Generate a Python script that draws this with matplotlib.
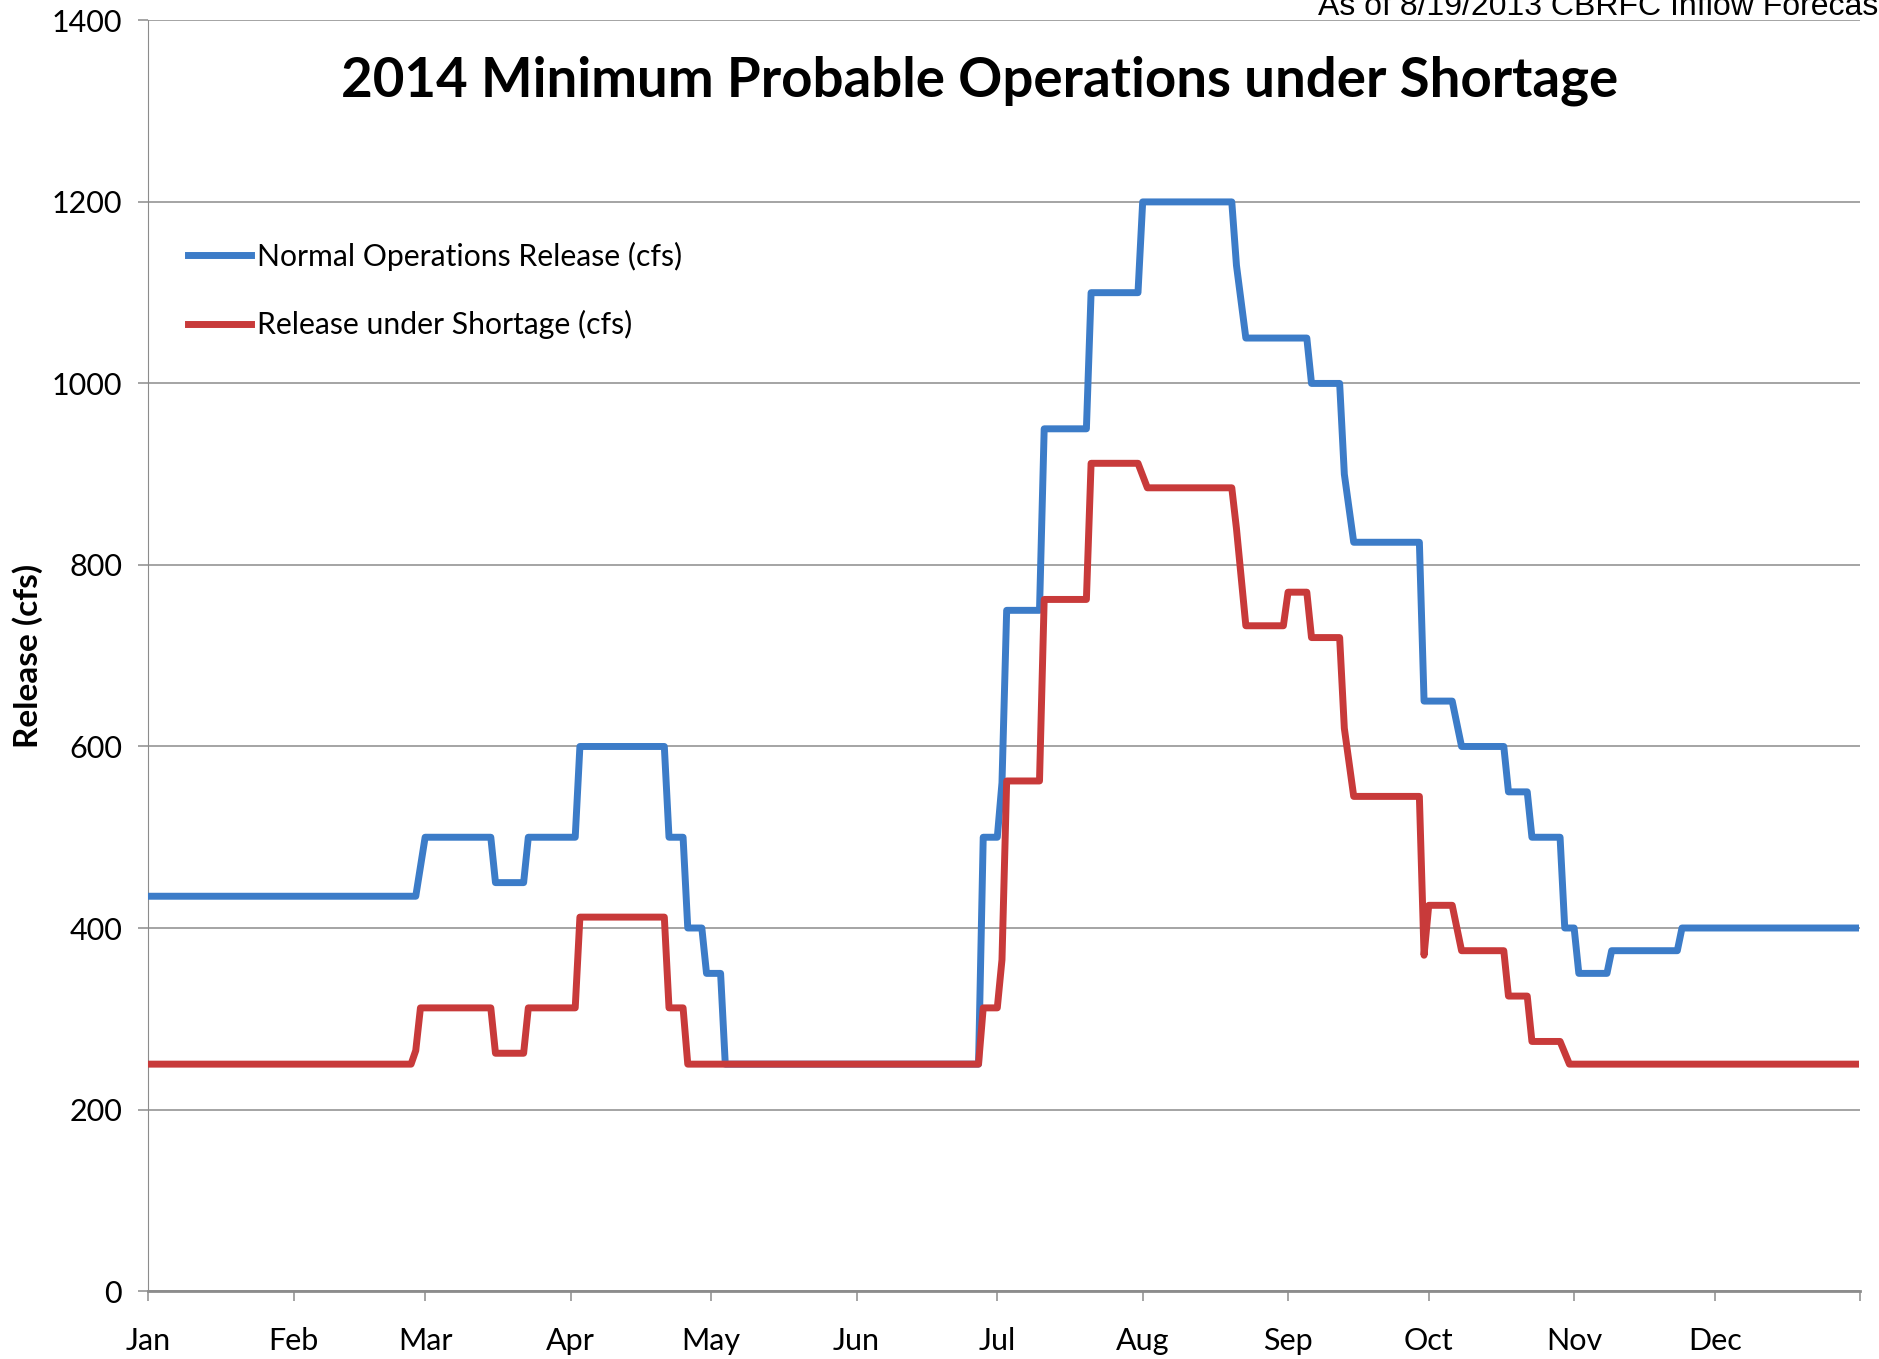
import pandas as pd
import matplotlib
matplotlib.use('Agg')
import matplotlib.pyplot as plt

# breakpoints of the two release schedules (date, cfs)
normal_dates = ['2014-01-01', '2014-02-27', '2014-03-01', '2014-03-15', '2014-03-16', '2014-03-22',
                '2014-03-23', '2014-04-02', '2014-04-03', '2014-04-21', '2014-04-22', '2014-04-25',
                '2014-04-26', '2014-04-29', '2014-04-30', '2014-05-03', '2014-05-04', '2014-06-27',
                '2014-06-28', '2014-07-01', '2014-07-02', '2014-07-03', '2014-07-10', '2014-07-11',
                '2014-07-20', '2014-07-21', '2014-07-31', '2014-08-01', '2014-08-20', '2014-08-21',
                '2014-08-23', '2014-09-05', '2014-09-06', '2014-09-12', '2014-09-13', '2014-09-15',
                '2014-09-29', '2014-09-30', '2014-10-06', '2014-10-07', '2014-10-08', '2014-10-17',
                '2014-10-18', '2014-10-22', '2014-10-23', '2014-10-29', '2014-10-30', '2014-11-01',
                '2014-11-02', '2014-11-08', '2014-11-09', '2014-11-23', '2014-11-24', '2014-12-31']
normal_cfs = [435, 435, 500, 500, 450, 450,
              500, 500, 600, 600, 500, 500,
              400, 400, 350, 350, 250, 250,
              500, 500, 560, 750, 750, 950,
              950, 1100, 1100, 1200, 1200, 1130,
              1050, 1050, 1000, 1000, 900, 825,
              825, 650, 650, 625, 600, 600,
              550, 550, 500, 500, 400, 400,
              350, 350, 375, 375, 400, 400]

shortage_dates = ['2014-01-01', '2014-02-26', '2014-02-27', '2014-02-28', '2014-03-15', '2014-03-16',
                  '2014-03-22', '2014-03-23', '2014-04-02', '2014-04-03', '2014-04-21', '2014-04-22',
                  '2014-04-25', '2014-04-26', '2014-06-27', '2014-06-28', '2014-07-01', '2014-07-02',
                  '2014-07-03', '2014-07-10', '2014-07-11', '2014-07-20', '2014-07-21', '2014-07-31',
                  '2014-08-02', '2014-08-20', '2014-08-21', '2014-08-23', '2014-08-31', '2014-09-01',
                  '2014-09-05', '2014-09-06', '2014-09-12', '2014-09-13', '2014-09-15', '2014-09-29',
                  '2014-09-30', '2014-10-01', '2014-10-06', '2014-10-07', '2014-10-08', '2014-10-17',
                  '2014-10-18', '2014-10-22', '2014-10-23', '2014-10-29', '2014-10-31', '2014-12-31']
shortage_cfs = [250, 250, 265, 312, 312, 262,
                262, 312, 312, 412, 412, 312,
                312, 250, 250, 312, 312, 365,
                562, 562, 762, 762, 912, 912,
                885, 885, 840, 733, 733, 770,
                770, 720, 720, 620, 545, 545,
                370, 425, 425, 400, 375, 375,
                325, 325, 275, 275, 250, 250]

months = ['Jan', 'Feb', 'Mar', 'Apr', 'May', 'Jun', 'Jul', 'Aug', 'Sep', 'Oct', 'Nov', 'Dec']

plt.rcParams['font.family'] = ['Lato', 'DejaVu Sans']

fig = plt.figure(figsize=(18.79, 13.59), dpi=100)
ax = fig.add_axes([0.079, 0.050, 0.911, 0.935])

ax.plot(pd.to_datetime(normal_dates), normal_cfs, color='#3C7CC8', lw=5,
        label='Normal Operations Release (cfs)', solid_joinstyle='round', zorder=3)
ax.plot(pd.to_datetime(shortage_dates), shortage_cfs, color='#C83A3A', lw=5,
        label='Release under Shortage (cfs)', solid_joinstyle='round', zorder=3)

ax.set_xlim(pd.Timestamp('2014-01-01'), pd.Timestamp('2015-01-01'))
ax.set_ylim(0, 1400)
ax.set_yticks(range(0, 1401, 200))
ticks = list(pd.date_range('2014-01-01', '2015-01-01', freq='MS'))
ax.set_xticks(ticks)
ax.set_xticklabels(months + [''])

ax.grid(axis='y', color='#8c8c8c', lw=1.1)
ax.set_axisbelow(True)
for s in ['top', 'right']:
    ax.spines[s].set_visible(False)
ax.spines['left'].set_color('#8c8c8c')
ax.spines['bottom'].set_color('#8c8c8c')
ax.spines['bottom'].set_linewidth(2)
ax.tick_params(axis='both', colors='#8c8c8c', labelcolor='black', labelsize=22, length=7, width=1.1)
ax.tick_params(axis='x', pad=19)
ax.tick_params(axis='y', pad=12)

ax.set_ylabel('Release (cfs)', fontsize=24, fontweight='bold', labelpad=6)

ax.legend(loc='upper left', bbox_to_anchor=(0.016, 0.8355), frameon=False, fontsize=21.7,
          handlelength=2.1, handletextpad=0.2, labelspacing=1.32, borderaxespad=0)

fig.text(980 / 1879, 1 - 81 / 1359, '2014 Minimum Probable Operations under Shortage',
         ha='center', va='center', fontsize=39.3, fontweight='bold')
fig.text(1318 / 1879, 1 - 15 / 1359, 'As of 8/19/2013 CBRFC Inflow Forecast',
         ha='left', va='baseline', fontsize=23, family='Liberation Sans')

fig.savefig('out.png', dpi=100)
